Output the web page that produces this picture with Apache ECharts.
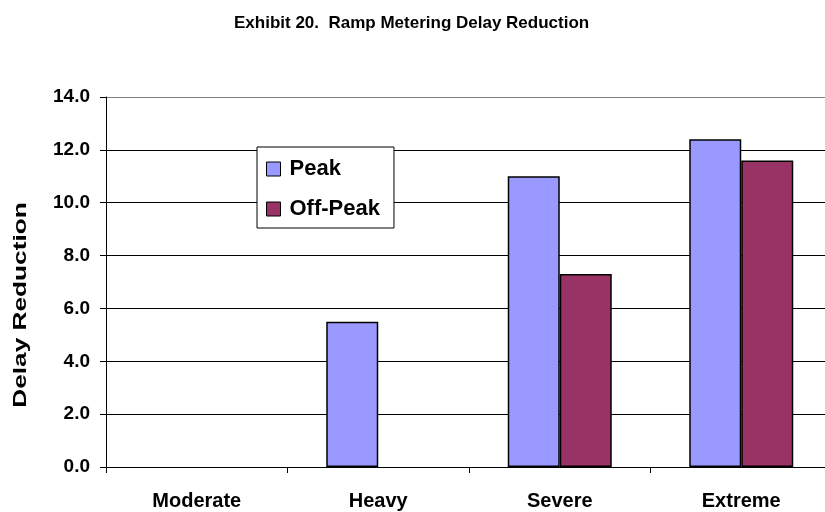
<!DOCTYPE html>
<html>
<head>
<meta charset="utf-8">
<script src="https://cdn.jsdelivr.net/npm/echarts@6/dist/echarts.min.js"></script>
<style>
  html, body { margin: 0; padding: 0; background: #fff; overflow: hidden; }
  /* 图表比窗口略宽，右侧被裁掉，与原图一致 */
  #main { width: 834px; height: 512px; }
</style>
</head>
<body>
<div id="main"></div>
<script>
// 数据
const categories = ['Moderate', 'Heavy', 'Severe', 'Extreme'];
const peak = [null, 5.5, 11.0, 12.4];
const offPeak = [null, null, 7.3, 11.6];
const yTicks = [0, 2, 4, 6, 8, 10, 12, 14];

const FONT = '"Liberation Sans", Arial, sans-serif';

let myChart = echarts.init(document.getElementById('main'));
let option = {
    animation: false,
    backgroundColor: '#fff',
    title: {
        text: 'Exhibit 20.  Ramp Metering Delay Reduction',
        left: 229,
        top: 10,
        textStyle: { fontFamily: FONT, fontSize: 17, fontWeight: 'bold', color: '#000' }
    },
    legend: {
        orient: 'vertical',
        left: 257,
        top: 147,
        padding: [11, 14, 8, 9],
        itemGap: 18,
        itemWidth: 14,
        itemHeight: 14,
        borderColor: '#000',
        borderWidth: 1,
        backgroundColor: '#fff',
        itemStyle: { borderColor: '#000', borderWidth: 1 },
        textStyle: { fontFamily: FONT, fontSize: 22, fontWeight: 'bold', color: '#000', padding: [0, 0, 0, 4] },
        data: [
            { name: 'Peak', icon: 'rect' },
            { name: 'Off-Peak', icon: 'rect' }
        ]
    },
    grid: { left: 106, top: 97, width: 726, height: 370 },
    // 纵轴标题（横向拉伸，贴近原图的字形）
    graphic: [{
        type: 'text',
        x: 21, y: 305,
        rotation: Math.PI / 2,
        scaleX: 1.38,
        style: {
            text: 'Delay Reduction',
            fontFamily: FONT, fontSize: 19, fontWeight: 'bold', fill: '#000',
            textAlign: 'center', textVerticalAlign: 'middle'
        }
    }],
    xAxis: {
        type: 'category',
        data: categories,
        axisLine: { lineStyle: { color: '#000', width: 1 } },
        axisTick: { show: true, interval: 0, length: 6, lineStyle: { color: '#000' } },
        axisLabel: {
            margin: 24,
            fontFamily: FONT, fontSize: 20, fontWeight: 'bold', color: '#000'
        }
    },
    yAxis: {
        type: 'value',
        min: yTicks[0],
        max: yTicks[yTicks.length - 1],
        interval: 2,
        axisLine: { show: true, lineStyle: { color: '#000', width: 1 } },
        axisTick: { show: true, length: 6, lineStyle: { color: '#000' } },
        splitLine: {
            show: true,
            lineStyle: { color: ['#000', '#000', '#000', '#000', '#000', '#000', '#000', '#808080'], width: 1 }
        },
        axisLabel: {
            margin: 16,
            fontFamily: FONT, fontSize: 19, fontWeight: 'bold', color: '#000',
            formatter: v => v.toFixed(1)
        }
    },
    series: [{
        name: 'Peak',
        type: 'bar',
        data: peak,
        barWidth: 52,
        barGap: '0%',
        itemStyle: { color: '#9999FF', borderColor: '#000', borderWidth: 1.5 }
    }, {
        name: 'Off-Peak',
        type: 'bar',
        data: offPeak,
        barWidth: 52,
        barGap: '0%',
        itemStyle: { color: '#993366', borderColor: '#000', borderWidth: 1.5 }
    }]
};
myChart.setOption(option);
</script>
</body>
</html>
